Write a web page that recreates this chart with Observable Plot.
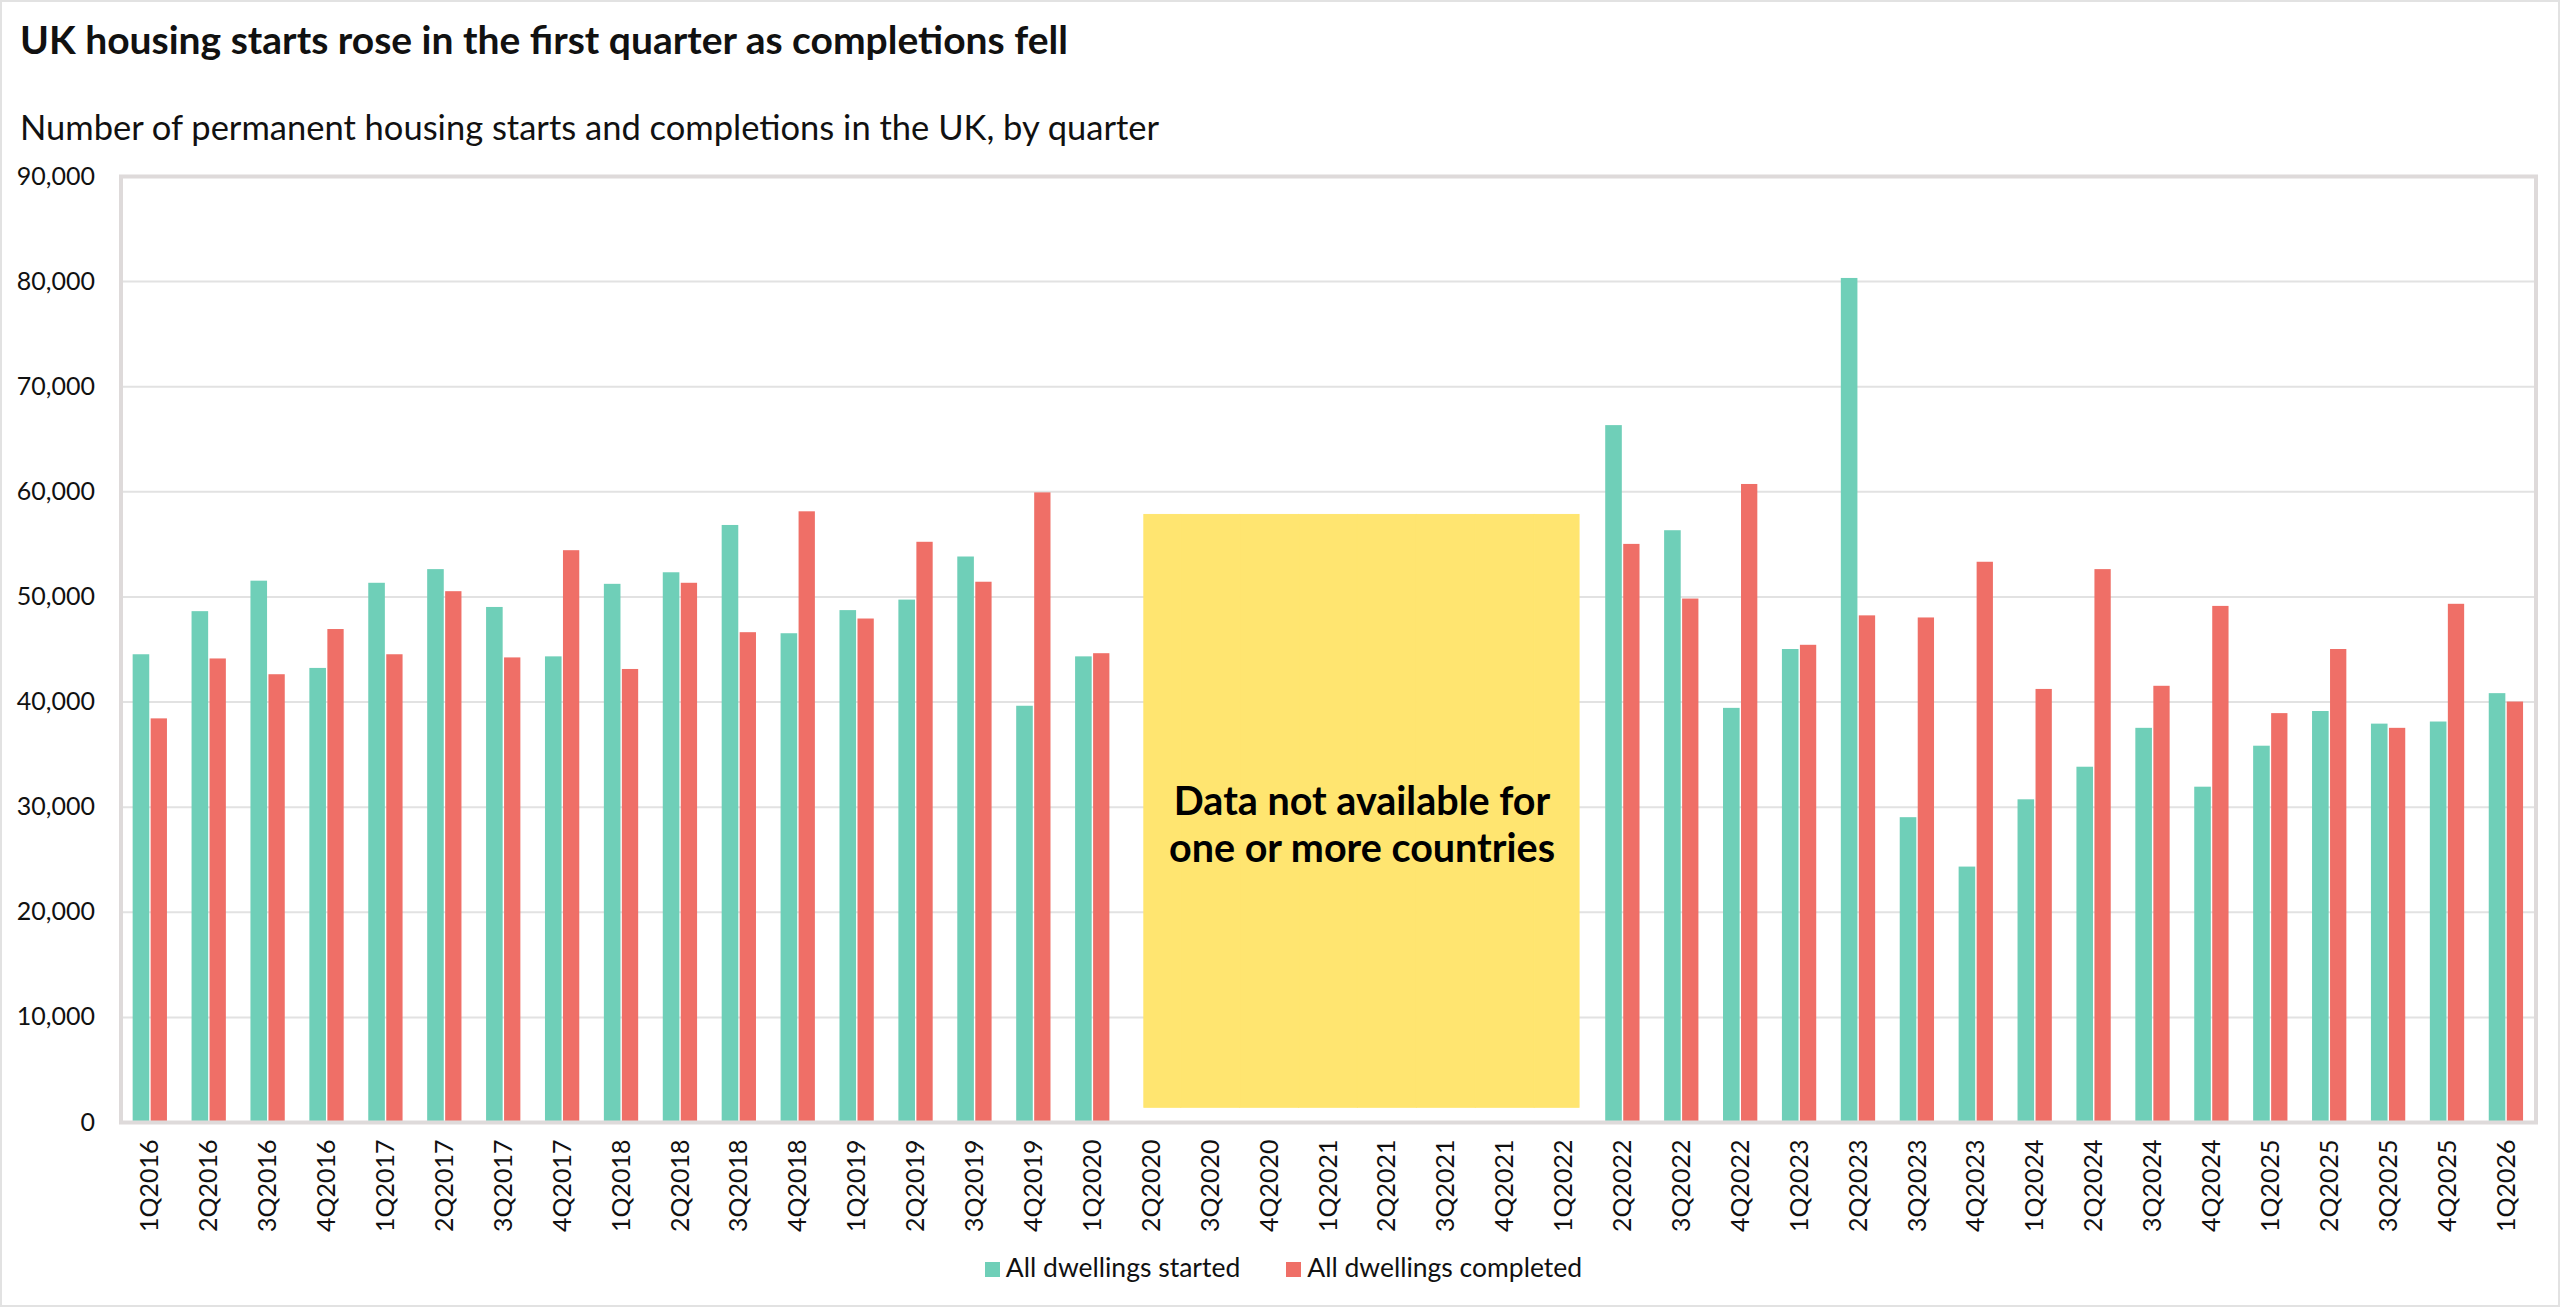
<!DOCTYPE html>
<html>
<head>
<meta charset="utf-8">
<script src="https://cdn.jsdelivr.net/npm/d3@7"></script>
<script src="https://cdn.jsdelivr.net/npm/@observablehq/plot@0.6"></script>
<style>
  html, body { margin: 0; padding: 0; background: #fff; }
  #wrap { position: relative; width: 2560px; height: 1307px; overflow: hidden; font-family: Lato, "Open Sans", sans-serif; color: #111; }
  #border { position: absolute; left: 0; top: 0; width: 2560px; height: 1307px; box-sizing: border-box; border: 2px solid #e2e2e2; pointer-events: none; }
  #title { position: absolute; left: 20px; top: 16px; font-size: 39px; font-weight: 700; line-height: 1.2; white-space: nowrap; }
  #subtitle { position: absolute; left: 20px; top: 105.5px; font-size: 34.5px; font-weight: 400; line-height: 1.2; white-space: nowrap; }
  #chart { position: absolute; left: 0; top: 150px; }
  #legend { position: absolute; left: 0; width: 2567px; top: 1252px; text-align: center; font-size: 26.5px; line-height: 1.2; white-space: nowrap; }
  .item { display: inline-block; margin: 0 23px; }
  .sw { display: inline-block; width: 15px; height: 15px; margin-right: 6px; vertical-align: baseline; }
</style>
</head>
<body>
<div id="wrap">
  <div id="title">UK housing starts rose in the first quarter as completions fell</div>
  <div id="subtitle">Number of permanent housing starts and completions in the UK, by quarter</div>
  <div id="chart"></div>
  <div id="legend"></div>
  <div id="border"></div>
</div>
<script>
const quarters = [
  "1Q2016","2Q2016","3Q2016","4Q2016",
  "1Q2017","2Q2017","3Q2017","4Q2017",
  "1Q2018","2Q2018","3Q2018","4Q2018",
  "1Q2019","2Q2019","3Q2019","4Q2019",
  "1Q2020","2Q2020","3Q2020","4Q2020",
  "1Q2021","2Q2021","3Q2021","4Q2021",
  "1Q2022","2Q2022","3Q2022","4Q2022",
  "1Q2023","2Q2023","3Q2023","4Q2023",
  "1Q2024","2Q2024","3Q2024","4Q2024",
  "1Q2025","2Q2025","3Q2025","4Q2025",
  "1Q2026"
];
const started = [
  44500, 48600, 51500, 43200,
  51300, 52600, 49000, 44300,
  51200, 52300, 56800, 46500,
  48700, 49700, 53800, 39600,
  44300, null, null, null,
  null, null, null, null,
  null, 66300, 56300, 39400,
  45000, 80300, 29000, 24300,
  30700, 33800, 37500, 31900,
  35800, 39100, 37900, 38100,
  40800
];
const completed = [
  38400, 44100, 42600, 46900,
  44500, 50500, 44200, 54400,
  43100, 51300, 46600, 58100,
  47900, 55200, 51400, 59900,
  44600, null, null, null,
  null, null, null, null,
  null, 55000, 49800, 60700,
  45400, 48200, 48000, 53300,
  41200, 52600, 41500, 49100,
  38900, 45000, 37500, 49300,
  40000
];
const seriesNames = ["All dwellings started", "All dwellings completed"];
const seriesColors = ["#6fcfb8", "#ef6f67"];
const yTicks = [0, 10000, 20000, 30000, 40000, 50000, 60000, 70000, 80000, 90000];
const gapNote = "Data not available for\none or more countries";

const table = quarters.map((q, i) => ({quarter: q, started: started[i], completed: completed[i]}));
const gap = table.filter(d => d.started == null).map(d => d.quarter);
const yellow = "#ffe570";

const W = 2560, H = 1100, mL = 120.5, mR = 24.5, mT = 26, mB = 128;
const bw = (W - mL - mR) / quarters.length;
const half = bw / 2;

const boxOpts = {y1: 1400, y2: 57800, fill: yellow, stroke: yellow, strokeWidth: 1};

const chart = Plot.plot({
  width: W,
  height: H,
  marginLeft: mL,
  marginRight: mR,
  marginTop: mT,
  marginBottom: mB,
  style: {fontFamily: "Lato, sans-serif", fontSize: "25px", color: "#111", background: "transparent"},
  x: {type: "band", domain: quarters, padding: 0, round: false, label: null, tickSize: 0, tickPadding: 17, tickRotate: -90},
  y: {domain: [0, 90000], ticks: yTicks, tickFormat: d3.format(","), label: null, tickSize: 0, tickPadding: 26},
  marks: [
    Plot.ruleY(yTicks.slice(1, -1), {stroke: "#e2e2e2", strokeWidth: 2}),
    Plot.barY(gap.slice(0, 1), {x: d => d, ...boxOpts, insetLeft: 22, insetRight: 0}),
    Plot.barY(gap.slice(1, -1), {x: d => d, ...boxOpts, inset: 0}),
    Plot.barY(gap.slice(-1), {x: d => d, ...boxOpts, insetLeft: 0, insetRight: 14}),
    Plot.barY(table.filter(d => d.started != null), {x: "quarter", y: "started", fill: seriesColors[0], insetLeft: half - 17.3, insetRight: half + 0.7}),
    Plot.barY(table.filter(d => d.completed != null), {x: "quarter", y: "completed", fill: seriesColors[1], insetLeft: half + 0.7, insetRight: half - 17.0}),
    Plot.frame({stroke: "#dedada", strokeWidth: 4}),
    Plot.text([gapNote], {x: () => "1Q2021", y: () => 28450, text: d => d, dx: 33.5, fontSize: 39.5, fontWeight: 700, fill: "#000", lineHeight: 1.19, fontFamily: "Lato, sans-serif"})
  ]
});
document.getElementById("chart").appendChild(chart);

const legend = document.getElementById("legend");
seriesNames.forEach((name, i) => {
  const item = document.createElement("span");
  item.className = "item";
  const sw = document.createElement("span");
  sw.className = "sw";
  sw.style.background = seriesColors[i];
  item.appendChild(sw);
  item.appendChild(document.createTextNode(name));
  legend.appendChild(item);
});
</script>
</body>
</html>
